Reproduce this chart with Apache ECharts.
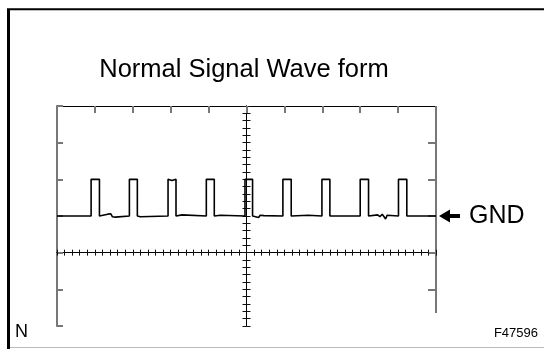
<!DOCTYPE html>
<html><head><meta charset="utf-8">
<script src="https://cdn.jsdelivr.net/npm/echarts@6/dist/echarts.min.js"></script>
<style>html,body{margin:0;padding:0;background:#fff}#c{width:544px;height:349px}</style>
</head><body><div id="c"></div>
<script>
const titleText = 'Normal Signal Wave form';
const gndLabel = 'GND';
const cornerLabel = 'N';
const figureId = 'F47596';
// time in screen divisions, relative to the screen centre
const risingEdges  = [-4.10, -3.09, -2.07, -1.06, -0.04, 0.96, 1.99, 3.00, 4.01];
const fallingEdges = [-3.88, -2.88, -1.86, -0.85, 0.16, 1.18, 2.20, 3.22, 4.23];
// voltage levels in divisions above the centre line
const lowLevel = 1;
const highLevel = 2;
// small ripples on the GND level: [time, offset]
const lowNoise = [[-4.42, 0.0], [-4.40, 0.03], [-4.38, 0.0],
  [-3.66, 0.05], [-3.62, 0.0], [-3.58, 0.06], [-3.54, -0.02], [-3.50, 0.03], [-3.46, -0.03], [-3.42, 0.0],
  [-2.80, -0.02], [-1.70, 0.03], [-0.69, 0.02],
  [0.32, -0.04], [0.36, 0.02], [0.40, -0.03], [0.46, 0.01], [0.50, 0.0],
  [1.63, 0.02],
  [3.46, 0.03], [3.52, -0.02], [3.58, 0.05], [3.63, -0.02], [3.67, -0.08], [3.71, 0.02], [3.76, -0.01]];
const highNoise = [[-1.97, -0.03]];

const xMin = -5, xMax = 5, yMin = -2, yMax = 4;

function buildWave() {
  const pts = [[xMin, lowLevel]];
  let prev = xMin;
  for (let i = 0; i < risingEdges.length; i++) {
    const r = risingEdges[i], f = fallingEdges[i];
    lowNoise.filter(p => p[0] > prev && p[0] < r).forEach(p => pts.push([p[0], lowLevel + p[1]]));
    pts.push([r, lowLevel], [r, highLevel]);
    highNoise.filter(p => p[0] > r && p[0] < f).forEach(p => pts.push([p[0], highLevel + p[1]]));
    pts.push([f, highLevel], [f, lowLevel]);
    prev = f;
  }
  lowNoise.filter(p => p[0] > prev).forEach(p => pts.push([p[0], lowLevel + p[1]]));
  pts.push([xMax, lowLevel]);
  return pts;
}

const FONT = '"Liberation Sans", Arial, sans-serif';
const hidden = { show: false };
function xAx(extra) {
  return Object.assign({ type: 'value', min: xMin, max: xMax, axisLabel: hidden, splitLine: hidden }, extra);
}
function yAx(extra) {
  return Object.assign({ type: 'value', min: yMin, max: yMax, axisLabel: hidden, splitLine: hidden }, extra);
}

const chart = echarts.init(document.getElementById('c'), null, { renderer: 'canvas' });
chart.setOption({
  animation: false,
  backgroundColor: '#fff',
  grid: { left: 57, right: 108, top: 106, bottom: 23, containLabel: false },
  xAxis: [
    xAx({ position: 'bottom', interval: 0.2,
      axisLine: { onZero: true, onZeroAxisIndex: 0, lineStyle: { color: '#000', width: 1 } },
      axisTick: { show: true, inside: false, length: 3, lineStyle: { color: '#111', width: 1 } } }),
    xAx({ position: 'bottom', interval: 0.2,
      axisLine: { onZero: true, onZeroAxisIndex: 0, lineStyle: { color: '#000', width: 1 } },
      axisTick: { show: true, inside: true, length: 3, lineStyle: { color: '#111', width: 1 } } }),
    xAx({ position: 'top', interval: 1,
      axisLine: { onZero: false, lineStyle: { color: '#000', width: 1 } },
      axisTick: { show: true, inside: true, length: 7, lineStyle: { color: '#777', width: 2 } } })
  ],
  yAxis: [
    yAx({ position: 'left', interval: 1,
      axisLine: { onZero: false, lineStyle: { color: '#777', width: 2 } },
      axisTick: { show: true, inside: true, length: 6, lineStyle: { color: '#777', width: 2 } } }),
    yAx({ position: 'right', interval: 1,
      axisLine: { show: false, onZero: false },
      axisTick: { show: true, inside: true, length: 8, customValues: [-1, 0, 1, 2, 3], lineStyle: { color: '#777', width: 2 } } }),
    yAx({ position: 'left', interval: 0.2,
      axisLine: { onZero: true, onZeroAxisIndex: 0, lineStyle: { color: '#000', width: 1 } },
      axisTick: { show: true, inside: true, length: 4, lineStyle: { color: '#111', width: 1 } } }),
    yAx({ position: 'left', interval: 0.2,
      axisLine: { onZero: true, onZeroAxisIndex: 0, lineStyle: { color: '#000', width: 1 } },
      axisTick: { show: true, inside: false, length: 4, lineStyle: { color: '#111', width: 1 } } })
  ],
  series: [{
    type: 'line', xAxisIndex: 0, yAxisIndex: 0, data: buildWave(),
    showSymbol: false, symbol: 'none', silent: true,
    lineStyle: { color: '#000', width: 1.6 }, z: 5
  }],
  graphic: [
    { type: 'line', shape: { x1: 8.5, y1: 9, x2: 8.5, y2: 349 }, style: { stroke: '#000', lineWidth: 3 } },
    { type: 'line', shape: { x1: 7, y1: 9.3, x2: 544, y2: 9.3 }, style: { stroke: '#000', lineWidth: 2 } },
    { type: 'line', shape: { x1: 10, y1: 347.5, x2: 544, y2: 347.5 }, style: { stroke: '#bbb', lineWidth: 1 } },
    { type: 'line', shape: { x1: 436, y1: 106, x2: 436, y2: 313 }, style: { stroke: '#777', lineWidth: 2 } },
    { type: 'text', x: 244, y: 70, style: { text: titleText, font: '25.5px ' + FONT, fill: '#000', textAlign: 'center', textVerticalAlign: 'middle' } },
    { type: 'polygon', shape: { points: [[439, 216], [450, 209.5], [450, 222.5]] }, style: { fill: '#000' } },
    { type: 'rect', shape: { x: 449, y: 214, width: 11, height: 4 }, style: { fill: '#000' } },
    { type: 'text', x: 469, y: 216, style: { text: gndLabel, font: '25px ' + FONT, fill: '#000', textAlign: 'left', textVerticalAlign: 'middle' } },
    { type: 'text', x: 15, y: 332, style: { text: cornerLabel, font: '18px ' + FONT, fill: '#000', textAlign: 'left', textVerticalAlign: 'middle' } },
    { type: 'text', x: 538, y: 333, style: { text: figureId, font: '13px ' + FONT, fill: '#000', textAlign: 'right', textVerticalAlign: 'middle' } }
  ]
});
</script>
</body></html>
